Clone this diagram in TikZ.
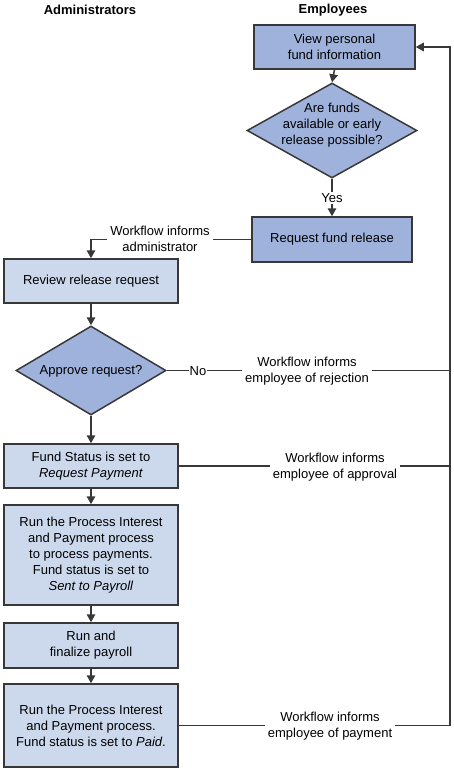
\documentclass[tikz,border=0pt]{standalone}
\usepackage{fontspec}
\setmainfont{Liberation Sans}
\usetikzlibrary{shapes.geometric,arrows.meta}
\definecolor{darkfill}{HTML}{9EB2DB}
\definecolor{lightfill}{HTML}{CCD9ED}
\definecolor{linecol}{HTML}{383838}
\begin{document}
\begin{tikzpicture}[x=1pt,y=-1pt,
  txt/.style={font=\fontsize{13}{16}\selectfont,align=center,inner sep=0pt},
  hdr/.style={font=\fontsize{13}{16}\selectfont\bfseries,inner sep=0pt},
  boxdark/.style={draw=linecol,line width=1.5pt,fill=darkfill,rectangle,txt},
  boxlight/.style={draw=linecol,line width=1.5pt,fill=lightfill,rectangle,txt},
  dia/.style={draw=linecol,line width=1.5pt,fill=darkfill,diamond,inner sep=0pt},
  lbl/.style={txt,fill=white,inner xsep=3pt,inner ysep=1pt},
  conn/.style={draw=linecol,line width=1.5pt},
  arr/.style={conn,-{Triangle[length=8pt,width=8.5pt]}}]
\useasboundingbox (0,0) rectangle (453,768);
% headers
\node[hdr] (hA) at (90,10) {Administrators};
\node[hdr] (hE) at (333,10) {Employees};
% employee nodes
\node[boxdark,minimum width=161pt,minimum height=44pt] (view) at (334.5,47) {View personal\\fund information};
\node[dia,minimum width=170pt,minimum height=95pt] (d1) at (332,130.5) {};
\node[txt] (d1t) at (332,125) {Are funds\\available or early\\release possible?};
\node[boxdark,minimum width=160pt,minimum height=45pt] (req) at (332,239.5) {Request fund release};
% administrator nodes
\node[boxlight,minimum width=174pt,minimum height=44pt] (rev) at (91,281) {Review release request};
\node[dia,minimum width=150pt,minimum height=89pt] (d2) at (91,370.5) {};
\node[txt] (d2t) at (91,371) {Approve request?};
\node[boxlight,minimum width=174pt,minimum height=44pt] (stat) at (91,466) {Fund Status is set to\\\textit{Request Payment}};
\node[boxlight,minimum width=174pt,minimum height=100pt] (proc) at (91,555) {Run the Process Interest\\and Payment process\\to process payments.\\Fund status is set to\\\textit{Sent to Payroll}};
\node[boxlight,minimum width=174pt,minimum height=45pt] (fin) at (91,645.5) {Run and\\finalize payroll};
\node[boxlight,minimum width=174pt,minimum height=83pt] (paid) at (91,725.5) {Run the Process Interest\\and Payment process.\\Fund status is set to \textit{Paid}.};
% coordinates
\coordinate (cAdm) at (91,239.5);
\coordinate (cRej) at (450,370.5);
\coordinate (cApp) at (450,466);
\coordinate (cPay) at (450,725.5);
\coordinate (cTop) at (450,47);
% connectors
\draw[arr] (view.south) -- (d1.north);
\draw[arr] (d1.south) -- (req.north);
\draw[arr] (req.west) -- (cAdm) -- (rev.north);
\draw[arr] (rev.south) -- (d2.north);
\draw[conn] (d2.east) -- (cRej);
\draw[arr] (d2.south) -- (stat.north);
\draw[conn] (stat.east) -- (cApp);
\draw[arr] (stat.south) -- (proc.north);
\draw[arr] (proc.south) -- (fin.north);
\draw[arr] (fin.south) -- (paid.north);
\draw[arr] (paid.east) -- (cPay) -- (cTop) -- (view.east);
% labels
\node[lbl] (lYes) at (332,198) {Yes};
\node[lbl] (lAdm) at (160,239) {Workflow informs\\administrator};
\node[lbl,inner xsep=1pt] (lNo) at (198,371) {No};
\node[lbl] (lRej) at (307,371) {Workflow informs\\employee of rejection};
\node[lbl] (lApp) at (335,467) {Workflow informs\\employee of approval};
\node[lbl] (lPay) at (330,726) {Workflow informs\\employee of payment};
\end{tikzpicture}
\end{document}
